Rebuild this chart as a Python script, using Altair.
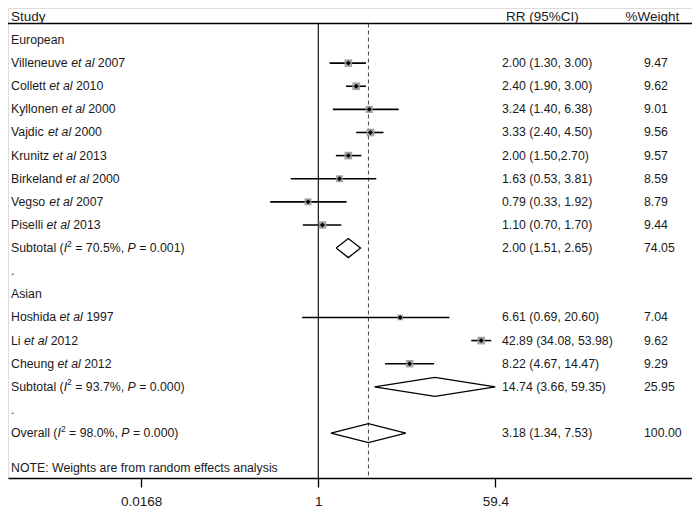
import altair as alt
import pandas as pd

# ---------------- data ----------------
study_names = ["Villeneuve", "Collett", "Kyllonen", "Vajdic", "Krunitz", "Birkeland",
               "Vegso", "Piselli", "Hoshida", "Li", "Cheung"]
study_years = ["2007", "2010", "2000", "2000", "2013", "2000", "2007", "2013", "1997", "2012", "2012"]
study_rr = [2.00, 2.40, 3.24, 3.33, 2.00, 1.63, 0.79, 1.10, 6.61, 42.89, 8.22]
study_lo = [1.30, 1.90, 1.40, 2.40, 1.50, 0.53, 0.33, 0.70, 0.69, 34.08, 4.67]
study_hi = [3.00, 3.00, 6.38, 4.50, 2.70, 3.81, 1.92, 1.70, 20.60, 53.98, 14.47]
study_ci_text = ["2.00 (1.30, 3.00)", "2.40 (1.90, 3.00)", "3.24 (1.40, 6.38)", "3.33 (2.40, 4.50)",
                 "2.00 (1.50,2.70)", "1.63 (0.53, 3.81)", "0.79 (0.33, 1.92)", "1.10 (0.70, 1.70)",
                 "6.61 (0.69, 20.60)", "42.89 (34.08, 53.98)", "8.22 (4.67, 14.47)"]
study_weight = [9.47, 9.62, 9.01, 9.56, 9.57, 8.59, 8.79, 9.44, 7.04, 9.62, 9.29]
study_row = [1, 2, 3, 4, 5, 6, 7, 8, 12, 13, 14]

pooled_labels = ["Subtotal", "Subtotal", "Overall"]
pooled_i2 = ["70.5%", "93.7%", "98.0%"]
pooled_p = ["0.001", "0.000", "0.000"]
pooled_rr = [2.00, 14.74, 3.18]
pooled_lo = [1.51, 3.66, 1.34]
pooled_hi = [2.65, 59.35, 7.53]
pooled_ci_text = ["2.00 (1.51, 2.65)", "14.74 (3.66, 59.35)", "3.18 (1.34, 7.53)"]
pooled_weight = ["74.05", "25.95", "100.00"]
pooled_row = [9, 15, 17]

group_labels = ["European", ".", "Asian", "."]
group_rows = [0, 10, 11, 16]
note_text = "NOTE: Weights are from random effects analysis"
note_row = 18.5

header_labels = ["Study", "RR (95%CI)", "%Weight"]
axis_ticks = [0.0168, 1, 59.4]

# ---------------- layout helpers ----------------
W, H = 684, 470
FONT = "Liberation Sans"
FS = 12.3
SUP = 8.5
TXT = "#1a1a1a"
X0_PX = 310.3      # pixel of RR = 1
PX_DEC = 99.8      # pixels per decade
TOP_Y = 15.5       # pixel of the header rule
xmin = 10 ** (-X0_PX / PX_DEC)
xmax = 10 ** ((W - X0_PX) / PX_DEC)
XS = alt.Scale(type="log", domain=[xmin, xmax], nice=False, clamp=False)
YS = alt.Scale(domain=[-1.384, 18.944], reverse=True, nice=False, zero=False)
XP = alt.Scale(domain=[0, W], range=[0, W], nice=False, zero=False)

AW = {' ': 278, 'a': 556, 'b': 556, 'c': 500, 'd': 556, 'e': 556, 'f': 278, 'g': 556, 'h': 556,
      'i': 222, 'j': 222, 'k': 500, 'l': 222, 'm': 833, 'n': 556, 'o': 556, 'p': 556, 'q': 556,
      'r': 333, 's': 500, 't': 278, 'u': 556, 'v': 500, 'w': 722, 'x': 500, 'y': 500, 'z': 500,
      'A': 667, 'B': 667, 'C': 722, 'D': 722, 'E': 667, 'F': 611, 'G': 778, 'H': 722, 'I': 278,
      'J': 500, 'K': 667, 'L': 556, 'M': 833, 'N': 722, 'O': 778, 'P': 667, 'Q': 778, 'R': 722,
      'S': 667, 'T': 611, 'U': 722, 'V': 667, 'W': 944, 'X': 667, 'Y': 667, 'Z': 611,
      '(': 333, ')': 333, '%': 889, ',': 278, '.': 278, '=': 584, ':': 278}


def tw(s, size):
    return sum(AW.get(c, 556) for c in s) * size / 1000.0


# segmented labels (normal / italic / superscript); spaces are turned into offsets
seg_rows = []


def add_label(row, segments, x0=3.0):
    x = x0
    for text, style in segments:
        size = SUP if style == "s" else FS
        lead = len(text) - len(text.lstrip(" "))
        core = text.strip(" ")
        seg_rows.append({"row": row, "px": x + tw(" " * lead, FS), "text": core, "style": style})
        x += tw(text, size)


for n, y, r in zip(study_names, study_years, study_row):
    add_label(r, [(n + " ", "n"), ("et al", "i"), (" " + y, "n")])
for lab, i2, p, r in zip(pooled_labels, pooled_i2, pooled_p, pooled_row):
    add_label(r, [(lab + " (", "n"), ("I", "i"), ("2", "s"), (" = " + i2 + ", ", "n"),
                  ("P", "i"), (" = " + p + ")", "n")])
for g, r in zip(group_labels, group_rows):
    add_label(r, [(g, "n")])
add_label(note_row, [(note_text, "n")])
segs = pd.DataFrame(seg_rows)

# right-hand text columns
col_rows = []
for t, w, r in zip(study_ci_text, study_weight, study_row):
    col_rows.append({"row": r, "px": 494, "text": t})
    col_rows.append({"row": r, "px": 636, "text": f"{w:.2f}"})
for t, w, r in zip(pooled_ci_text, pooled_weight, pooled_row):
    col_rows.append({"row": r, "px": 494, "text": t})
    col_rows.append({"row": r, "px": 636, "text": w})
cols = pd.DataFrame(col_rows)

hdr = pd.DataFrame({"px": [3, 498, 617.5], "text": header_labels})

studies = pd.DataFrame({"row": study_row, "rr": study_rr, "lo": study_lo, "hi": study_hi,
                        "w": study_weight})
studies["sz"] = (0.8 * studies["w"]) ** 2

dia_rows = []
for k, (rr, lo, hi, r) in enumerate(zip(pooled_rr, pooled_lo, pooled_hi, pooled_row)):
    pts = [(lo, r), (rr, r - 0.41), (hi, r), (rr, r + 0.41), (lo, r)]
    for o, (xv, yv) in enumerate(pts):
        dia_rows.append({"g": k, "o": o, "x": xv, "y": yv})
dia = pd.DataFrame(dia_rows)

ref_one = pd.DataFrame({"v": [1.0]})
ref_overall = pd.DataFrame({"v": [pooled_rr[-1]]})
ticks_df = pd.DataFrame({"v": axis_ticks})

# ---------------- layers ----------------
axis_layer = alt.Chart(ticks_df).mark_point(opacity=0).encode(
    x=alt.X("v:Q", scale=XS, axis=alt.Axis(values=axis_ticks, format=".3~g", title=None, grid=False,
                                           domainColor="black", domainWidth=1.3, tickColor="black",
                                           tickWidth=1.3, tickSize=9, labelFontSize=13.5, labelFont=FONT,
                                           labelColor=TXT, labelPadding=7)),
    y=alt.value(0),
)

top_rule = alt.Chart(ref_one).mark_rule(color="black", strokeWidth=1.3).encode(
    x=alt.value(0), x2=alt.value(W), y=alt.value(TOP_Y))

one_rule = alt.Chart(ref_one).mark_rule(color="black", strokeWidth=1.1).encode(
    x=alt.X("v:Q", scale=XS, axis=None), y=alt.value(TOP_Y), y2=alt.value(H))

dash_rule = alt.Chart(ref_overall).mark_rule(color="#444", strokeWidth=1, strokeDash=[4, 3]).encode(
    x=alt.X("v:Q", scale=XS, axis=None), y=alt.value(TOP_Y), y2=alt.value(H))

ci = alt.Chart(studies).mark_rule(color="black", strokeWidth=1.6).encode(
    x=alt.X("lo:Q", scale=XS, axis=None), x2="hi:Q",
    y=alt.Y("row:Q", scale=YS, axis=None))

boxes = alt.Chart(studies).mark_square(color="#9a9a9a", opacity=0.9).encode(
    x=alt.X("rr:Q", scale=XS, axis=None),
    y=alt.Y("row:Q", scale=YS, axis=None),
    size=alt.Size("sz:Q", scale=None, legend=None))

dots = alt.Chart(studies).mark_point(shape="diamond", filled=True, color="black", size=24, opacity=1).encode(
    x=alt.X("rr:Q", scale=XS, axis=None),
    y=alt.Y("row:Q", scale=YS, axis=None))

diamonds = alt.Chart(dia).mark_line(color="black", strokeWidth=1.3).encode(
    x=alt.X("x:Q", scale=XS, axis=None),
    y=alt.Y("y:Q", scale=YS, axis=None),
    detail="g:N", order="o:Q")


def text_layer(df, size, style=None, italic=False, dy=0):
    src = df if style is None else df[df["style"] == style]
    return alt.Chart(src).mark_text(align="left", baseline="middle", font=FONT, fontSize=size,
                                    fontStyle="italic" if italic else "normal", color=TXT, dy=dy).encode(
        x=alt.X("px:Q", scale=XP, axis=None),
        y=alt.Y("row:Q", scale=YS, axis=None),
        text="text:N")


t_norm = text_layer(segs, FS, "n")
t_ital = text_layer(segs, FS, "i", italic=True)
t_sup = text_layer(segs, SUP, "s", dy=-4.5)
t_cols = text_layer(cols, FS)
t_hdr = alt.Chart(hdr).mark_text(align="left", baseline="alphabetic", font=FONT, fontSize=13.5,
                                 color=TXT).encode(
    x=alt.X("px:Q", scale=XP, axis=None), y=alt.value(12.5), text="text:N")

chart = alt.layer(
    axis_layer, top_rule, one_rule, dash_rule, ci, boxes, dots, diamonds,
    t_norm, t_ital, t_sup, t_cols, t_hdr,
).resolve_scale(x="independent", y="shared").properties(
    width=W, height=H, autosize=alt.AutoSizeParams(type="none"),
    padding={"left": 0, "top": 0, "right": 0, "bottom": 31},
).configure_view(stroke=None).configure(background="white")

chart.save("out.html", embed_options={"renderer": "svg", "actions": False})
